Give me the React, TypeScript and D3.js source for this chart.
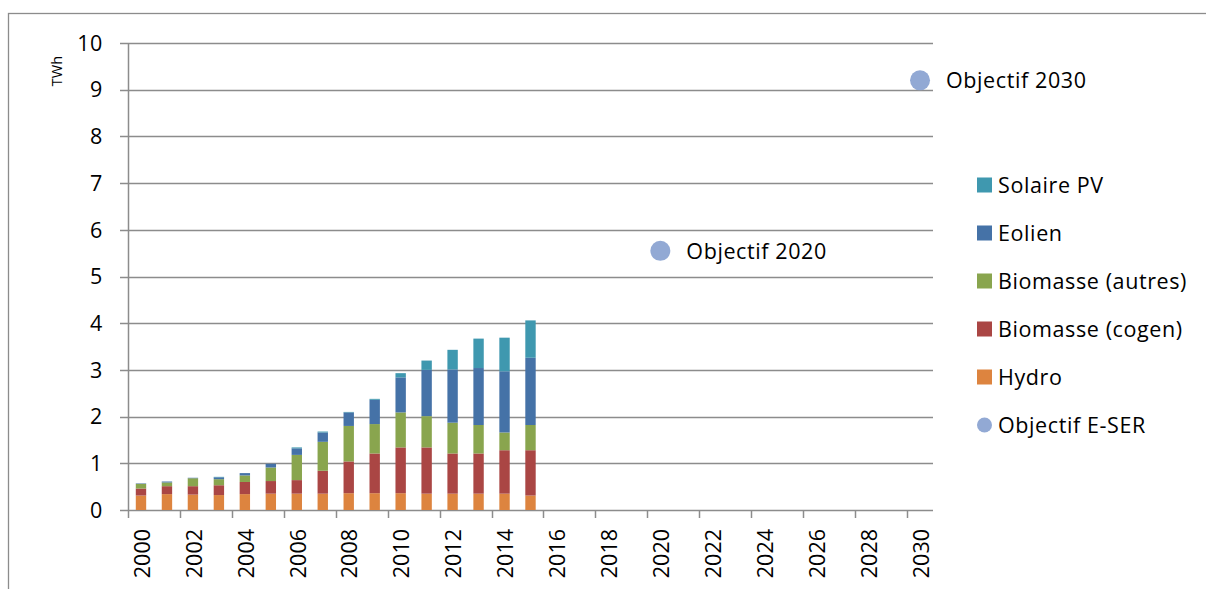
import React from "react";
import * as d3 from "d3";

const years: string[] = d3.range(2000, 2031).map((y) => String(y));
const dataYears = ["2000","2001","2002","2003","2004","2005","2006","2007","2008","2009","2010","2011","2012","2013","2014","2015"];
const hydro = [0.31, 0.34, 0.33, 0.32, 0.34, 0.35, 0.35, 0.35, 0.36, 0.36, 0.36, 0.35, 0.35, 0.35, 0.35, 0.31];
const cogen = [0.15, 0.17, 0.18, 0.21, 0.26, 0.27, 0.29, 0.49, 0.68, 0.85, 0.98, 0.99, 0.86, 0.86, 0.93, 0.97];
const autres = [0.10, 0.08, 0.17, 0.13, 0.14, 0.29, 0.54, 0.62, 0.76, 0.63, 0.75, 0.67, 0.66, 0.61, 0.38, 0.54];
const eolien = [0.01, 0.02, 0.01, 0.04, 0.05, 0.08, 0.14, 0.20, 0.29, 0.52, 0.75, 0.99, 1.14, 1.22, 1.31, 1.44];
const solaire = [0.0, 0.0, 0.0, 0.01, 0.0, 0.0, 0.02, 0.02, 0.01, 0.02, 0.09, 0.20, 0.42, 0.63, 0.72, 0.80];
const objYears = ["2020", "2030"];
const objValues = [5.55, 9.2];
const objLabels = ["Objectif 2020", "Objectif 2030"];
const yTicks = [0, 1, 2, 3, 4, 5, 6, 7, 8, 9, 10];

const seriesNames = ["Hydro", "Biomasse (cogen)", "Biomasse (autres)", "Eolien", "Solaire PV"];
const seriesColors = ["#DD843F", "#AA4644", "#89A54E", "#4572A7", "#3F98AF"];
const objColor = "#92A9D4";

const FONT = "'Open Sans', 'Liberation Sans', sans-serif";
const FS = 21.5;
const LS = 0.6;

export default function App() {
  const left = 128, right = 933, top = 43, bottom = 510;
  const x = d3.scaleBand<string>().domain(years).range([left, right]).paddingInner(0).paddingOuter(0);
  const y = d3.scaleLinear().domain([0, 10]).range([bottom, top]);
  const bw = x.bandwidth() / 2.5;

  const rows = dataYears.map((yr, i) => ({
    year: yr,
    Hydro: hydro[i],
    "Biomasse (cogen)": cogen[i],
    "Biomasse (autres)": autres[i],
    Eolien: eolien[i],
    "Solaire PV": solaire[i],
  }));
  const stacked = d3.stack<any>().keys(seriesNames)(rows);

  const legendItems = [
    { name: "Solaire PV", color: seriesColors[4], circle: false },
    { name: "Eolien", color: seriesColors[3], circle: false },
    { name: "Biomasse (autres)", color: seriesColors[2], circle: false },
    { name: "Biomasse (cogen)", color: seriesColors[1], circle: false },
    { name: "Hydro", color: seriesColors[0], circle: false },
    { name: "Objectif E-SER", color: objColor, circle: true },
  ];

  const gridColor = "#8c8c8c";
  const xTickIdx = d3.range(0, 31, 2);

  return (
    <svg width={1206} height={589} style={{ position: "absolute", left: 0, top: 0 }} fontFamily={FONT}>
      <rect x={8.5} y={13.5} width={1220} height={600} fill="white" stroke="#8c8c8c" strokeWidth={1.3} />
      {yTicks.map((t) => (
        <g key={t}>
          <line x1={120} x2={right} y1={Math.round(y(t)) + 0.5} y2={Math.round(y(t)) + 0.5} stroke={gridColor} strokeWidth={1.5} />
          <text x={103} y={y(t)} dy="0.36em" textAnchor="end" fontSize={FS} letterSpacing={LS} fill="#000">{t}</text>
        </g>
      ))}
      <line x1={left + 0.5} x2={left + 0.5} y1={top} y2={bottom} stroke={gridColor} strokeWidth={1.5} />
      {xTickIdx.map((i) => {
        const xx = Math.round(x(years[i])!) + 0.5;
        return <line key={i} x1={xx} x2={xx} y1={bottom} y2={bottom + 8} stroke={gridColor} strokeWidth={1.5} />;
      })}
      {xTickIdx.map((i) => {
        const cx = x(years[i])! + x.bandwidth() / 2;
        return (
          <text key={"l" + i} transform={`translate(${cx + 1},${529}) rotate(-90)`} textAnchor="end" dy="0.36em" fontSize={FS} fill="#000">
            {years[i]}
          </text>
        );
      })}
      <text transform={`translate(${57},${71}) rotate(-90)`} textAnchor="middle" dy="0.36em" fontSize={14.5} fill="#000">TWh</text>
      {stacked.map((s, si) => (
        <g key={s.key} fill={seriesColors[si]}>
          {s.map((d, i) => {
            const y0 = y(d[0]);
            const y1 = y(d[1]);
            if (y0 - y1 <= 0) return null;
            return (
              <rect key={i} x={x(dataYears[i])! + (x.bandwidth() - bw) / 2} y={y1} width={bw} height={y0 - y1} />
            );
          })}
        </g>
      ))}
      {objYears.map((yr, i) => {
        const cx = x(yr)! + x.bandwidth() / 2;
        const cy = y(objValues[i]);
        return (
          <g key={yr}>
            <circle cx={cx} cy={cy} r={10} fill={objColor} />
            <text x={cx + 26} y={cy} dy="0.36em" fontSize={FS} letterSpacing={LS} fill="#000">{objLabels[i]}</text>
          </g>
        );
      })}
      {legendItems.map((it, i) => {
        const cy = 185 + i * 48;
        return (
          <g key={it.name}>
            {it.circle ? (
              <circle cx={984.5} cy={cy} r={7.5} fill={it.color} />
            ) : (
              <rect x={977} y={cy - 7.5} width={15} height={15} fill={it.color} />
            )}
            <text x={998} y={cy} dy="0.36em" fontSize={FS} letterSpacing={LS} fill="#000">{it.name}</text>
          </g>
        );
      })}
    </svg>
  );
}
